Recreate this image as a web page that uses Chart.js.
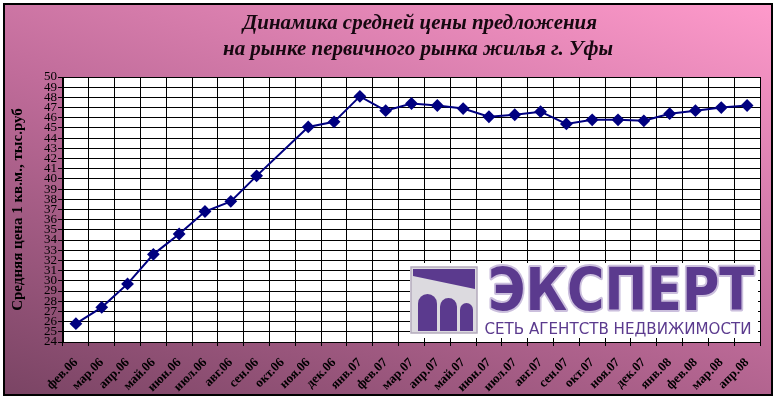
<!DOCTYPE html>
<html>
<head>
<meta charset="utf-8">
<script src="https://cdn.jsdelivr.net/npm/chart.js@4/dist/chart.umd.min.js"></script>
<style>
    html, body { margin: 0; padding: 0; background: #fff; }
    #wrap { width: 777px; height: 401px; }
</style>
</head>
<body>
<div id="wrap"><canvas id="priceChart" width="777" height="401"></canvas></div>
<script>
const months = ['фев.06', 'мар.06', 'апр.06', 'май.06', 'июн.06', 'июл.06', 'авг.06', 'сен.06', 'окт.06',
    'ноя.06', 'дек.06', 'янв.07', 'фев.07', 'мар.07', 'апр.07', 'май.07', 'июн.07', 'июл.07', 'авг.07',
    'сен.07', 'окт.07', 'ноя.07', 'дек.07', 'янв.08', 'фев.08', 'мар.08', 'апр.08'];
// окт.06 has no value in the source, the line just spans it
const prices = [25.8, 27.4, 29.7, 32.6, 34.6, 36.8, 37.8, 40.3, null,
    45.1, 45.6, 48.1, 46.7, 47.4, 47.2, 46.9, 46.1, 46.3, 46.6,
    45.4, 45.8, 45.8, 45.7, 46.4, 46.7, 47.0, 47.2];
const yMin = 24;
const yMax = 50;
const yStep = 1;
const titleLines = ['Динамика средней цены предложения', 'на рынке первичного рынка жилья г. Уфы'];
const yTitle = 'Средняя цена 1 кв.м., тыс.руб';
const logoName = 'ЭКСПЕРТ';
const logoSub = 'СЕТЬ АГЕНТСТВ НЕДВИЖИМОСТИ';

const PURPLE = '#5b3a8e';

// draw text squeezed/stretched to a given width
function fitText(ctx, text, cx, cy, width) {
    const w = ctx.measureText(text).width;
    ctx.save();
    ctx.translate(cx, cy);
    ctx.scale(width / w, 1);
    ctx.fillText(text, 0, 0);
    ctx.restore();
}

const backdrop = {
    id: 'backdrop',
    beforeDraw(chart) {
        const ctx = chart.ctx;
        const a = chart.chartArea;
        ctx.save();
        // darker bottom-left to light pink top-right, mostly vertical
        const g = ctx.createLinearGradient(4, 395, 202, -189);
        g.addColorStop(0, '#7a4464');
        g.addColorStop(0.5, '#c06c9a');
        g.addColorStop(1, '#fe9acb');
        ctx.fillStyle = g;
        ctx.fillRect(4, 4, 768, 391);
        ctx.lineWidth = 2;
        ctx.strokeStyle = '#000';
        ctx.strokeRect(4, 4, 768, 391);
        ctx.fillStyle = '#fff';
        ctx.fillRect(a.left, a.top, a.right - a.left, a.bottom - a.top);

        // title
        ctx.fillStyle = '#160810';
        ctx.font = 'italic bold 22px "Liberation Serif"';
        ctx.textAlign = 'center';
        ctx.textBaseline = 'middle';
        fitText(ctx, titleLines[0], 420, 23, 354);
        fitText(ctx, titleLines[1], 418, 49, 390);
        ctx.restore();
    },
    afterDatasetsDraw(chart) {
        const ctx = chart.ctx;
        ctx.save();
        // logo plate
        ctx.fillStyle = '#fff';
        ctx.fillRect(410, 263, 348, 75);

        // emblem
        ctx.fillStyle = '#dcdadf';
        ctx.fillRect(411, 267, 66, 66);
        ctx.strokeStyle = '#b4aabd';
        ctx.lineWidth = 1.5;
        ctx.strokeRect(411, 267, 66, 66);
        ctx.fillStyle = PURPLE;
        ctx.beginPath();
        ctx.moveTo(413, 269);
        ctx.lineTo(475, 269);
        ctx.lineTo(475, 289);
        ctx.lineTo(413, 276);
        ctx.closePath();
        ctx.fill();
        [[418, 437, 294], [440, 457, 298], [460, 473, 303]].forEach(([x0, x1, top]) => {
            const r = (x1 - x0) / 2;
            ctx.beginPath();
            ctx.moveTo(x0, 331);
            ctx.lineTo(x0, top + r);
            ctx.arc(x0 + r, top + r, r, Math.PI, 0);
            ctx.lineTo(x1, 331);
            ctx.closePath();
            ctx.fill();
        });

        // name
        ctx.textAlign = 'center';
        ctx.textBaseline = 'alphabetic';
        ctx.font = 'bold 58px "DejaVu Sans"';
        const w = ctx.measureText(logoName).width;
        ctx.save();
        ctx.translate(621, 310);
        ctx.scale(266 / w, 1);
        ctx.lineJoin = 'round';
        ctx.lineWidth = 4;
        ctx.strokeStyle = '#cbbfdd';
        ctx.strokeText(logoName, 0, 0);
        ctx.fillStyle = PURPLE;
        ctx.fillText(logoName, 0, 0);
        ctx.restore();

        ctx.fillStyle = PURPLE;
        ctx.font = '15px "DejaVu Sans"';
        ctx.textBaseline = 'alphabetic';
        fitText(ctx, logoSub, 618, 334, 267);
        ctx.restore();
    }
};

const ctx = document.getElementById('priceChart').getContext('2d');
const priceChart = new Chart(ctx, {
    type: 'line',
    data: {
        labels: months,
        datasets: [{
            data: prices,
            borderColor: '#000080',
            backgroundColor: '#000080',
            borderWidth: 2,
            pointStyle: 'rectRot',
            pointRadius: 5,
            pointBackgroundColor: '#000080',
            pointBorderColor: '#000080',
            tension: 0,
            spanGaps: true
        }]
    },
    options: {
        responsive: false,
        animation: false,
        layout: {
            padding: { left: 5, right: 17, top: 77, bottom: 5 }
        },
        plugins: {
            legend: { display: false },
            tooltip: { enabled: false },
            title: { display: false }
        },
        scales: {
            x: {
                offset: true,
                grid: {
                    offset: true,
                    color: '#000',
                    lineWidth: 1,
                    tickLength: 4
                },
                border: { color: '#000', width: 1 },
                ticks: {
                    minRotation: 45,
                    maxRotation: 45,
                    autoSkip: false,
                    padding: 9,
                    color: '#000',
                    font: { family: '"Liberation Serif"', size: 13, weight: 'bold' }
                },
                afterFit(scale) { scale.height = 54; }
            },
            y: {
                min: yMin,
                max: yMax,
                grid: {
                    color: '#000',
                    lineWidth: 1,
                    tickLength: 5
                },
                border: { color: '#000', width: 1 },
                ticks: {
                    stepSize: yStep,
                    padding: 1,
                    color: '#000',
                    autoSkip: false,
                    font: { family: '"Liberation Serif"', size: 13 }
                },
                title: {
                    display: true,
                    text: yTitle,
                    color: '#000',
                    padding: { top: 4, bottom: 0 },
                    font: { family: '"Liberation Serif"', size: 15, weight: 'bold' }
                },
                afterFit(scale) { scale.width = 58; }
            }
        }
    },
    plugins: [backdrop]
});
</script>
</body>
</html>
